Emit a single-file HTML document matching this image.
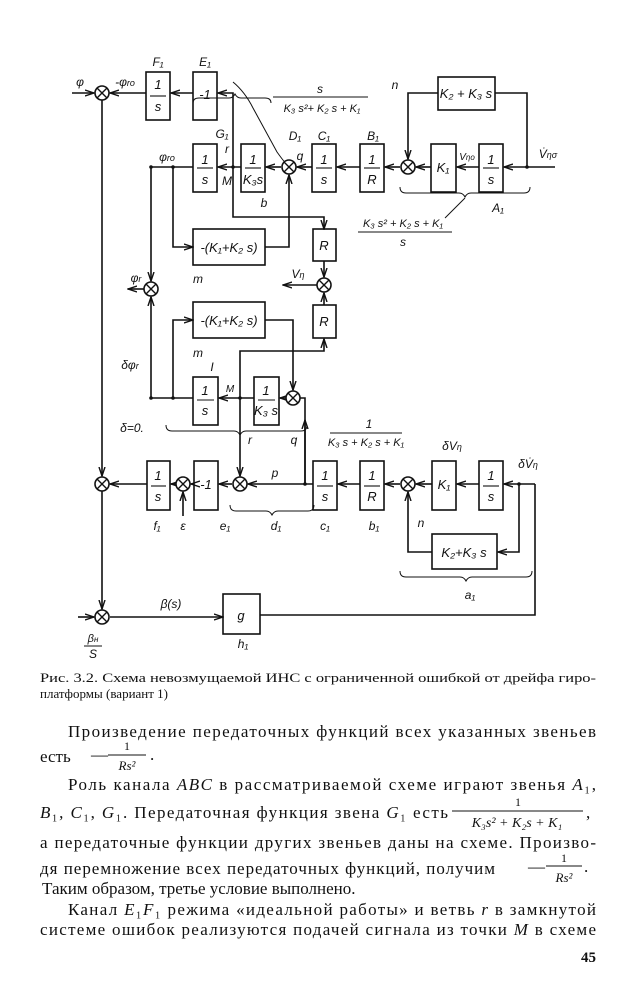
<!DOCTYPE html>
<html><head><meta charset="utf-8"><style>
html,body{margin:0;padding:0;background:#fff}
svg{display:block}
.t{font-family:"Liberation Serif",serif;fill:#111}
.i{font-family:"Liberation Sans",sans-serif;font-style:italic;fill:#111;font-size:12px}
.b{font-size:13px}
</style></head><body>
<svg width="636" height="1000" viewBox="0 0 636 1000" xmlns="http://www.w3.org/2000/svg">
<defs>
<marker id="a" markerWidth="10" markerHeight="8" refX="9" refY="4" orient="auto" markerUnits="userSpaceOnUse">
<path d="M0,1 L9,4 L0,7" fill="none" stroke="#111" stroke-width="1.4"/></marker>
<g id="sj"><circle r="7" fill="#fff" stroke="#111" stroke-width="1.6"/><path d="M-5,-5L5,5M5,-5L-5,5" stroke="#111" stroke-width="1.4"/></g>
</defs>
<g stroke="#111" stroke-width="1.6" fill="none">
<rect x="146" y="72" width="24" height="48"/><rect x="193" y="72" width="24" height="48"/>
<path d="M72,93H94" marker-end="url(#a)"/>
<path d="M146,93H110" marker-end="url(#a)"/>
<path d="M193,93H171" marker-end="url(#a)"/>
<path d="M233,167V93H218" marker-end="url(#a)"/>
<path d="M102,100V476" marker-end="url(#a)"/>
<rect x="193" y="144" width="24" height="48"/><rect x="241" y="144" width="24" height="48"/>
<rect x="312" y="144" width="24" height="48"/><rect x="360" y="144" width="24" height="48"/>
<rect x="431" y="144" width="25" height="48"/><rect x="479" y="144" width="24" height="48"/>
<rect x="438" y="77" width="57" height="33"/>
<path d="M555,167H504" marker-end="url(#a)"/>
<path d="M479,167H457" marker-end="url(#a)"/>
<path d="M431,167H416" marker-end="url(#a)"/>
<path d="M400,167H385" marker-end="url(#a)"/>
<path d="M360,167H337" marker-end="url(#a)"/>
<path d="M312,167H297" marker-end="url(#a)"/>
<path d="M281,167H266" marker-end="url(#a)"/>
<path d="M241,167H218" marker-end="url(#a)"/>
<path d="M193,167H151V281" marker-end="url(#a)"/>
<path d="M527,167V93H495"/>
<path d="M438,93H408V159" marker-end="url(#a)"/>
<path d="M173,167V247H193" marker-end="url(#a)"/>
<rect x="193" y="229" width="72" height="36"/>
<path d="M265,247H289V175" marker-end="url(#a)"/>
<path d="M233,167V217H324V229" marker-end="url(#a)"/>
<rect x="313" y="229" width="23" height="32"/>
<path d="M324,261V277" marker-end="url(#a)"/>
<path d="M317,285H283" marker-end="url(#a)"/>
<path d="M144,289H128" marker-end="url(#a)"/>
<rect x="313" y="305" width="23" height="33"/>
<path d="M324,305V293" marker-end="url(#a)"/>
<rect x="193" y="302" width="72" height="36"/>
<path d="M173,398V320H193" marker-end="url(#a)"/>
<path d="M265,320H293V390" marker-end="url(#a)"/>
<path d="M151,398V297" marker-end="url(#a)"/>
<rect x="193" y="377" width="25" height="48"/><rect x="254" y="377" width="25" height="48"/>
<path d="M193,398H151"/>
<path d="M254,398H219" marker-end="url(#a)"/>
<path d="M286,398H280" marker-end="url(#a)"/>
<path d="M240,398V351H324V339" marker-end="url(#a)"/>
<path d="M240,398V476" marker-end="url(#a)"/>
<path d="M300,398H305V484"/>
<path d="M305,484V420" marker-end="url(#a)"/>
<rect x="147" y="461" width="23" height="49"/><rect x="194" y="461" width="24" height="49"/>
<rect x="313" y="461" width="24" height="49"/><rect x="360" y="461" width="24" height="49"/>
<rect x="432" y="461" width="24" height="49"/><rect x="479" y="461" width="24" height="49"/>
<path d="M535,484H504" marker-end="url(#a)"/>
<path d="M479,484H457" marker-end="url(#a)"/>
<path d="M432,484H416" marker-end="url(#a)"/>
<path d="M400,484H385" marker-end="url(#a)"/>
<path d="M360,484H338" marker-end="url(#a)"/>
<path d="M313,484H248" marker-end="url(#a)"/>
<path d="M232,484H219" marker-end="url(#a)"/>
<path d="M194,484H191" marker-end="url(#a)"/>
<path d="M176,484H171" marker-end="url(#a)"/>
<path d="M147,484H110" marker-end="url(#a)"/>
<path d="M183,516V492" marker-end="url(#a)"/>
<path d="M519,484V552H498" marker-end="url(#a)"/>
<rect x="432" y="534" width="65" height="35"/>
<path d="M432,552H408V492" marker-end="url(#a)"/>
<path d="M535,484V615H260"/>
<rect x="223" y="594" width="37" height="40"/>
<path d="M110,617H223" marker-end="url(#a)"/>
<path d="M102,491V609" marker-end="url(#a)"/>
<path d="M78,617H94" marker-end="url(#a)"/>
<path d="M193,103 q0,-5 6,-5 h30 q4,0 6,-4 q2,4 6,4 h24 q6,0 6,5" stroke-width="1"/>
<path d="M233,82 q12,10 20,26 l24,44 q10,14 12,14" stroke-width="1"/>
<path d="M400,187 q0,6 6,6 h53 q4,0 6,4 q2,-4 6,-4 h53 q6,0 6,-6" stroke-width="1"/>
<path d="M465,198 l-20,20" stroke-width="1"/>
<path d="M166,425 q0,6 6,6 h62 q4,0 6,4 q2,-4 6,-4 h55 q6,0 6,-6" stroke-width="1"/>
<path d="M230,505 q0,6 6,6 h30 q4,0 6,4 q2,-4 6,-4 h30 q6,0 6,-6" stroke-width="1"/>
<path d="M400,571 q0,6 6,6 h54 q4,0 6,4 q2,-4 6,-4 h54 q6,0 6,-6" stroke-width="1"/>
</g>
<g stroke-width="1.1" stroke="#111">
<line x1="273" y1="97" x2="368" y2="97"/><line x1="358" y1="232" x2="452" y2="232"/>
<line x1="330" y1="433" x2="402" y2="433"/>
<line x1="150" y1="96" x2="166" y2="96"/><line x1="197" y1="168" x2="213" y2="168"/><line x1="245" y1="168" x2="261" y2="168"/>
<line x1="316" y1="168" x2="332" y2="168"/><line x1="364" y1="168" x2="380" y2="168"/><line x1="483" y1="168" x2="499" y2="168"/>
<line x1="197" y1="400" x2="214" y2="400"/><line x1="258" y1="400" x2="275" y2="400"/>
<line x1="151" y1="486" x2="166" y2="486"/><line x1="317" y1="486" x2="333" y2="486"/><line x1="364" y1="486" x2="380" y2="486"/><line x1="483" y1="486" x2="499" y2="486"/>
<line x1="84" y1="646" x2="102" y2="646"/>
</g>
<g fill="#111"><circle cx="151" cy="167" r="1.8"/><circle cx="173" cy="167" r="1.8"/><circle cx="233" cy="167" r="1.8"/><circle cx="527" cy="167" r="1.8"/>
<circle cx="151" cy="398" r="1.8"/><circle cx="173" cy="398" r="1.8"/><circle cx="240" cy="398" r="1.8"/><circle cx="305" cy="484" r="1.8"/><circle cx="519" cy="484" r="1.8"/></g>
<use href="#sj" x="102" y="93"/><use href="#sj" x="289" y="167"/><use href="#sj" x="408" y="167"/>
<use href="#sj" x="324" y="285"/><use href="#sj" x="151" y="289"/><use href="#sj" x="293" y="398"/>
<use href="#sj" x="102" y="484"/><use href="#sj" x="183" y="484"/><use href="#sj" x="240" y="484"/><use href="#sj" x="408" y="484"/>
<use href="#sj" x="102" y="617"/>
<g class="i" text-anchor="middle">
<text class="b" x="158" y="89">1</text><text class="b" x="158" y="111">s</text><text x="158" y="66">F₁</text>
<text class="b" x="205" y="99">-1</text><text x="205" y="66">E₁</text>
<text x="80" y="86">φ</text><text x="125" y="86">-φ<tspan font-size="9">ro</tspan></text>
<text x="320" y="93">s</text><text x="322" y="112" font-size="11">K₃ s²+ K₂ s + K₁</text>
<text class="b" x="466" y="98">K₂ + K₃ s</text><text x="395" y="89">n</text>
<text x="548" y="158">V̇<tspan font-size="9">ησ</tspan></text>
<text class="b" x="205" y="164">1</text><text class="b" x="205" y="184">s</text>
<text class="b" x="253" y="164">1</text><text class="b" x="253" y="184">K₃s</text>
<text class="b" x="324" y="164">1</text><text class="b" x="324" y="184">s</text>
<text class="b" x="372" y="164">1</text><text class="b" x="372" y="184">R</text>
<text class="b" x="443" y="172">K₁</text>
<text class="b" x="491" y="164">1</text><text class="b" x="491" y="184">s</text>
<text x="467" y="160" font-size="10">V<tspan font-size="8">ηo</tspan></text>
<text x="222" y="138">G₁</text><text x="227" y="153">r</text><text x="227" y="185">M</text>
<text x="295" y="140">D₁</text><text x="324" y="140">C₁</text><text x="373" y="140">B₁</text>
<text x="300" y="160">q</text><text x="264" y="207">b</text><text x="498" y="212">A₁</text>
<text x="167" y="161">φ<tspan font-size="9">ro</tspan></text>
<text x="403" y="227" font-size="11">K₃ s² + K₂ s + K₁</text><text x="403" y="246">s</text>
<text class="b" x="229" y="252">-(K₁+K₂ s)</text>
<text class="b" x="324" y="250">R</text><text class="b" x="324" y="326">R</text>
<text x="298" y="278">V<tspan font-size="9">η</tspan></text>
<text x="136" y="282">φ<tspan font-size="9">r</tspan></text>
<text x="198" y="283">m</text>
<text class="b" x="229" y="325">-(K₁+K₂ s)</text><text x="198" y="357">m</text>
<text x="130" y="369">δφ<tspan font-size="9">r</tspan></text>
<text x="212" y="371">I</text><text x="230" y="392" font-size="10">M</text>
<text class="b" x="205" y="395">1</text><text class="b" x="205" y="415">s</text>
<text class="b" x="266" y="395">1</text><text class="b" x="266" y="415">K₃ s</text>
<text x="132" y="432">δ=0.</text>
<text x="369" y="428">1</text><text x="366" y="446" font-size="11">K₃ s + K₂ s + K₁</text>
<text x="250" y="444">r</text><text x="294" y="444">q</text>
<text class="b" x="158" y="480">1</text><text class="b" x="158" y="501">s</text>
<text class="b" x="206" y="489">-1</text>
<text class="b" x="325" y="480">1</text><text class="b" x="325" y="501">s</text>
<text class="b" x="372" y="480">1</text><text class="b" x="372" y="501">R</text>
<text class="b" x="444" y="489">K₁</text>
<text class="b" x="491" y="480">1</text><text class="b" x="491" y="501">s</text>
<text x="275" y="477">p</text>
<text x="452" y="450">δV<tspan font-size="9">η</tspan></text>
<text x="528" y="468">δV̇<tspan font-size="9">η</tspan></text>
<text x="157" y="530">f₁</text><text x="183" y="530">ε</text><text x="225" y="530">e₁</text>
<text x="276" y="530">d₁</text><text x="325" y="530">c₁</text><text x="374" y="530">b₁</text>
<text x="421" y="527">n</text>
<text class="b" x="464" y="557">K₂+K₃ s</text>
<text x="470" y="599">a₁</text>
<text x="171" y="608">β(s)</text>
<text class="b" x="241" y="620">g</text><text x="243" y="648">h₁</text>
<text x="93" y="642" font-size="11">β<tspan font-size="8">н</tspan></text><text x="93" y="658">S</text>
</g>
<g class="t">
<text x="40" y="682" font-size="13" textLength="556" lengthAdjust="spacingAndGlyphs">Рис. 3.2. Схема невозмущаемой ИНС с ограниченной ошибкой  от дрейфа гиро-</text>
<text x="40" y="698" font-size="13">платформы (вариант 1)</text>
<text x="68" y="737" font-size="17" textLength="528" lengthAdjust="spacing">Произведение передаточных функций всех указанных звеньев</text>
<text x="40" y="762" font-size="17">есть</text>
<text x="91" y="760" font-size="17">—</text><line x1="108" y1="755" x2="146" y2="755" stroke="#111"/>
<text x="127" y="750" font-size="12" text-anchor="middle">1</text>
<text x="127" y="770" font-size="13" text-anchor="middle" font-style="italic">Rs²</text><text x="150" y="760" font-size="17">.</text>
<text x="68" y="790" font-size="17" textLength="528" lengthAdjust="spacing">Роль канала <tspan font-style="italic">ABC</tspan> в рассматриваемой схеме играют звенья <tspan font-style="italic">A</tspan>₁,</text>
<text x="40" y="818" font-size="17" textLength="408" lengthAdjust="spacing"><tspan font-style="italic">B</tspan>₁, <tspan font-style="italic">C</tspan>₁, <tspan font-style="italic">G</tspan>₁. Передаточная функция звена <tspan font-style="italic">G</tspan>₁ есть</text>
<line x1="452" y1="811" x2="583" y2="811" stroke="#111"/>
<text x="518" y="806" font-size="12" text-anchor="middle">1</text>
<text x="517" y="827" font-size="14" text-anchor="middle" font-style="italic">K₃s² + K₂s + K₁</text><text x="586" y="818" font-size="17">,</text>
<text x="40" y="848" font-size="17" textLength="556" lengthAdjust="spacing">а передаточные функции других звеньев даны на схеме. Произво-</text>
<text x="40" y="874" font-size="17" textLength="455" lengthAdjust="spacing">дя перемножение всех передаточных функций, получим</text>
<text x="528" y="872" font-size="17">—</text><line x1="546" y1="866" x2="582" y2="866" stroke="#111"/>
<text x="564" y="862" font-size="12" text-anchor="middle">1</text>
<text x="564" y="882" font-size="13" text-anchor="middle" font-style="italic">Rs²</text><text x="584" y="872" font-size="17">.</text>
<text x="42" y="894" font-size="17">Таким образом, третье условие выполнено.</text>
<text x="68" y="915" font-size="17" textLength="528" lengthAdjust="spacing">Канал <tspan font-style="italic">E</tspan>₁<tspan font-style="italic">F</tspan>₁ режима «идеальной работы» и ветвь <tspan font-style="italic">r</tspan> в замкнутой</text>
<text x="40" y="935" font-size="17" textLength="556" lengthAdjust="spacing">системе ошибок реализуются подачей сигнала из точки <tspan font-style="italic">M</tspan> в схеме</text>
<text x="596" y="962" font-size="15" font-weight="bold" text-anchor="end">45</text>
</g>
</svg>
</body></html>
